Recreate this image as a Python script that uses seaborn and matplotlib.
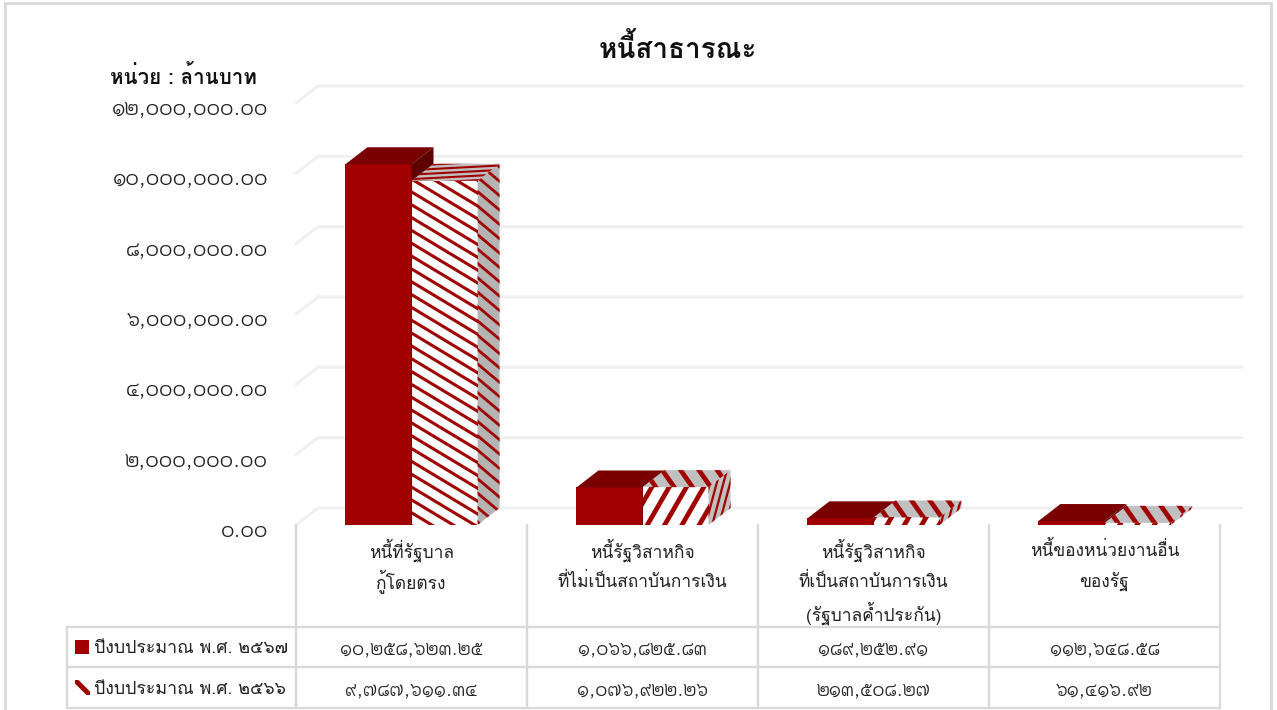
import matplotlib
matplotlib.use("Agg")
import numpy as np
import pandas as pd
import seaborn as sns
import matplotlib.pyplot as plt
from matplotlib.patches import Polygon, Rectangle
from matplotlib.lines import Line2D
from matplotlib.transforms import IdentityTransform, ScaledTranslation

FONT = "Loma"
NUM_FONT = "Krub"

CATEGORIES = [
    "หนี้ที่รัฐบาล\nกู้โดยตรง",
    "หนี้รัฐวิสาหกิจ\nที่ไม่เป็นสถาบันการเงิน",
    "หนี้รัฐวิสาหกิจ\nที่เป็นสถาบันการเงิน\n(รัฐบาลค้ำประกัน)",
    "หนี้ของหน่วยงานอื่น\nของรัฐ",
]
YEARS = ["ปีงบประมาณ พ.ศ. ๒๕๖๗", "ปีงบประมาณ พ.ศ. ๒๕๖๖"]
VALUES_2567 = [10258623.25, 1066825.83, 189252.91, 112648.58]
VALUES_2566 = [9787611.34, 1076922.26, 213508.27, 61416.92]
LABELS_2567 = ["๑๐,๒๕๘,๖๒๓.๒๕", "๑,๐๖๖,๘๒๕.๘๓", "๑๘๙,๒๕๒.๙๑", "๑๑๒,๖๔๘.๕๘"]
LABELS_2566 = ["๙,๗๘๗,๖๑๑.๓๔", "๑,๐๗๖,๙๒๒.๒๖", "๒๑๓,๕๐๘.๒๗", "๖๑,๔๑๖.๙๒"]
YTICKS = [0, 2000000, 4000000, 6000000, 8000000, 10000000, 12000000]
YTICK_LABELS = ["๐.๐๐", "๒,๐๐๐,๐๐๐.๐๐", "๔,๐๐๐,๐๐๐.๐๐", "๖,๐๐๐,๐๐๐.๐๐",
                "๘,๐๐๐,๐๐๐.๐๐", "๑๐,๐๐๐,๐๐๐.๐๐", "๑๒,๐๐๐,๐๐๐.๐๐"]

W, H = 1277, 710
RED = "#a00000"
RED_TOP = "#7a0000"
RED_SIDE = "#5e0000"
GREY_FACE = "#c0c0c0"
GREY_SIDE = "#b4b4b4"
LINE = "#d9d9d9"
GRID = "#f0f0f0"
TEXT = "#222222"


def px(x, y):
    # reference pixel (top left origin) to figure fraction
    return x / W, 1 - y / H


def stripes(target, owner, angle, period, lw, color=RED):
    # red diagonal stripes clipped to a patch, drawn in pixel space
    box = target.get_window_extent()
    c = np.array([(box.x0 + box.x1) / 2, (box.y0 + box.y1) / 2])
    r = np.hypot(box.width, box.height) / 2 + period
    a = np.deg2rad(angle)
    d = np.array([np.cos(a), np.sin(a)])
    n = np.array([-d[1], d[0]])
    for k in np.arange(-int(r / period), int(r / period) + 1) * period:
        p0, p1 = c + n * k - d * r, c + n * k + d * r
        ln = Line2D([p0[0], p1[0]], [p0[1], p1[1]], color=color, lw=lw,
                    solid_capstyle="butt", zorder=target.get_zorder() + 0.1)
        owner.add_artist(ln)
        ln.set_transform(IdentityTransform())
        ln.set_clip_path(target)


sns.set_theme(style="white")
plt.rcParams["font.family"] = [FONT, "DejaVu Sans"]

df = pd.DataFrame({
    "category": CATEGORIES * 2,
    "year": [YEARS[0]] * 4 + [YEARS[1]] * 4,
    "value": VALUES_2567 + VALUES_2566,
})

fig = plt.figure(figsize=(W / 100, H / 100), dpi=100)
x0, y1 = px(296, 103)
x1, y0 = px(1220, 525)
ax = fig.add_axes([x0, y0, x1 - x0, y1 - y0])
ax.patch.set_alpha(0)

sns.barplot(data=df, x="category", y="value", hue="year", order=CATEGORIES, hue_order=YEARS,
            palette=[RED, "white"], width=0.572, gap=0, legend=False, saturation=1, ax=ax,
            errorbar=None)
ax.set_xlim(-0.5, 3.5)
ax.set_ylim(0, 12000000)
ax.set_xlabel("")
ax.set_ylabel("")
ax.set_xticks([])
ax.set_yticks(YTICKS, YTICK_LABELS)
ax.tick_params(axis="y", length=0, pad=20, labelsize=16, labelcolor=TEXT)
for lab in ax.get_yticklabels():
    lab.set_family([NUM_FONT, "DejaVu Sans"])
    lab.set_transform(lab.get_transform() + ScaledTranslation(0, -3 / 100, fig.dpi_scale_trans))
for s in ax.spines.values():
    s.set_visible(False)

# oblique depth of the fake 3D box, in data units
dx = 22 / 231
dy = 17 / (422 / 12000000)

# back wall grid
for t in YTICKS:
    ax.plot([-0.5, -0.5 + dx, 3.5 + dx], [t, t + dy, t + dy], color=GRID, lw=2.2,
            clip_on=False, zorder=1, solid_joinstyle="miter")

bars = [p for p in ax.patches if p.get_height() > 0]
fig.canvas.draw()
for i, bar in enumerate(bars):
    left, w, h = bar.get_x(), bar.get_width(), bar.get_height()
    solid = i < 4
    z = 3 if solid else 4
    bar.set_linewidth(0)
    bar.set_zorder(z)
    side_fc = RED_SIDE if solid else (GREY_SIDE if i == 4 else GREY_FACE)
    top = Polygon([(left, h), (left + dx, h + dy), (left + w + dx, h + dy), (left + w, h)],
                  closed=True, fc=RED_TOP if solid else GREY_FACE, lw=0, clip_on=False, zorder=z)
    side = Polygon([(left + w, 0), (left + w + dx, dy), (left + w + dx, h + dy), (left + w, h)],
                   closed=True, fc=side_fc, lw=0, clip_on=False, zorder=z)
    ax.add_patch(top)
    ax.add_patch(side)
    if not solid:
        if i == 4:
            stripes(bar, ax, -31, 11, 2.2)
            stripes(side, ax, -40, 11, 2)
            stripes(top, ax, 3, 4.5, 1.5)
        else:
            stripes(bar, ax, 60, 15, 3.4)
            stripes(side, ax, 75, 6.5, 1.6)
            stripes(top, ax, -55, 15, 3.4)

# table lines under the plot
for xp in [296, 527, 758, 989, 1220]:
    fig.add_artist(Line2D([xp / W] * 2, [px(0, 525)[1], px(0, 708)[1]], color=LINE, lw=1.7))
fig.add_artist(Line2D([67 / W] * 2, [px(0, 627)[1], px(0, 708)[1]], color=LINE, lw=1.7))
for yp in [627, 667, 708]:
    fig.add_artist(Line2D([67 / W, 1220 / W], [px(0, yp)[1]] * 2, color=LINE, lw=1.7))
fig.add_artist(Rectangle(px(5, 730), 1266 / W, 727 / H, fc="none", ec=LINE, lw=2,
                         transform=fig.transFigure))

# category labels and table values
for i, cat in enumerate(CATEGORIES):
    xc = (i + 0.5) * 231 + 296
    for j, line in enumerate(cat.split("\n")):
        fig.text(xc / W, px(0, 550 + 31.5 * j)[1], line, ha="center", va="center", fontsize=12.5, color=TEXT)
    fig.text(xc / W, px(0, 649)[1], LABELS_2567[i], ha="center", va="center", fontsize=14.4,
             family=[NUM_FONT, "DejaVu Sans"], color=TEXT)
    fig.text(xc / W, px(0, 690)[1], LABELS_2566[i], ha="center", va="center", fontsize=14.4,
             family=[NUM_FONT, "DejaVu Sans"], color=TEXT)

# legend keys and names sit in the first table column
k1 = Rectangle(px(75, 654), 14 / W, 14 / H, fc=RED, lw=0, transform=fig.transFigure)
k2 = Rectangle(px(75, 695), 15 / W, 15 / H, fc="white", lw=0, transform=fig.transFigure)
fig.add_artist(k1)
fig.add_artist(k2)
stripes(k2, fig, -45, 30, 3.6)
fig.text(94 / W, px(0, 648)[1], YEARS[0], ha="left", va="center", fontsize=12.8, color=TEXT)
fig.text(94 / W, px(0, 689)[1], YEARS[1], ha="left", va="center", fontsize=12.8, color=TEXT)

fig.text(678 / W, px(0, 48)[1], "หนี้สาธารณะ", ha="center", va="center", fontsize=20, fontweight="bold", color="#111111")
fig.text(110 / W, px(0, 77)[1], "หน่วย : ล้านบาท", ha="left", va="center", fontsize=14.8, fontweight="bold", color="#111111")

fig.savefig("out.png", dpi=100)
